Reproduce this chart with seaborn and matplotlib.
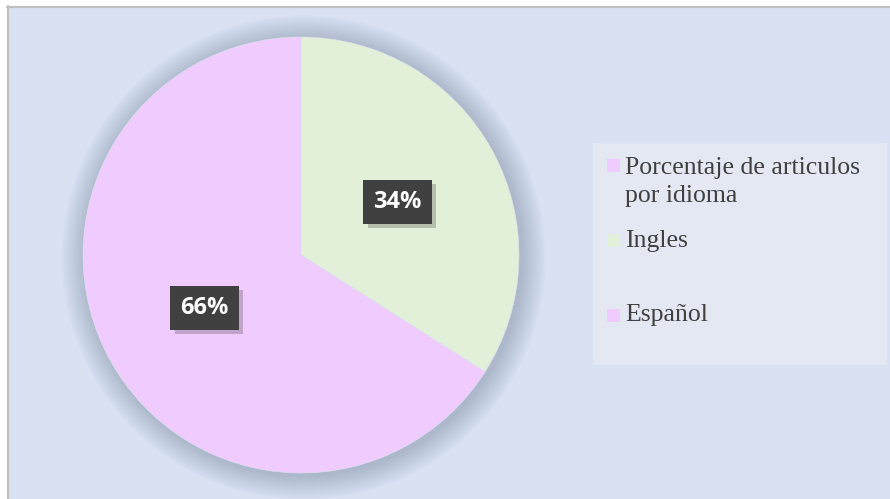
import numpy as np
import seaborn as sns
import matplotlib.pyplot as plt
import matplotlib.patheffects as pe
from matplotlib.patches import Rectangle, Circle
from matplotlib.lines import Line2D

# data
idiomas = ["Ingles", "Español"]
porcentajes = [34, 66]
serie = "Porcentaje de articulos\npor idioma"
colores = ["#E2EFD9", "#F0CCFE"]

sns.set_theme(style="white")
plt.rcParams["font.family"] = ["Liberation Serif", "DejaVu Serif"]

W, H = 890, 499
fig = plt.figure(figsize=(W / 100, H / 100), dpi=100)
fig.patch.set_facecolor("white")

# chart area background + grey frame (only left/top visible)
fig.patches.append(Rectangle((8 / W, 0), 1, (H - 7) / H, transform=fig.transFigure,
                             facecolor="#D9E2F3", edgecolor="none", zorder=-2))
fig.add_artist(Line2D([7.5 / W, 7.5 / W], [0, (H - 6) / H], color="#BFBFBF", lw=1.5, zorder=-1))
fig.add_artist(Line2D([7 / W, 1], [(H - 6.5) / H] * 2, color="#BFBFBF", lw=1.5, zorder=-1))

# pie axes: centre (301, 255), radius 218 px
cx, cy, r = 301, 255, 218
ax = fig.add_axes([(cx - r) / W, (H - cy - r) / H, 2 * r / W, 2 * r / H])
ax.set_facecolor("none")
ax.set_zorder(3)

# soft glow/shadow around the pie
n = 20
for k in range(n):
    rad = 1.0 + 0.0055 * (n - k)
    ax.add_patch(Circle((0.012, -0.012), rad, facecolor="#7A89A3", edgecolor="none",
                        alpha=0.022, clip_on=False, zorder=0))

wedges, texts, autotexts = ax.pie(
    porcentajes, colors=colores, startangle=90, counterclock=False,
    autopct="%d%%", pctdistance=0.505, radius=1,
    wedgeprops=dict(linewidth=0.4, edgecolor="#DDE3EE"),
    textprops=dict(color="white", fontsize=17, fontweight="bold", family="Open Sans"))
for w in wedges:
    w.set_zorder(2)
for t in autotexts:
    t.set_zorder(5)
    t.set_bbox(dict(boxstyle="square,pad=0.42", facecolor="#404040", edgecolor="none"))
    t.get_bbox_patch().set_path_effects([
        pe.SimplePatchShadow(offset=(3, -3), shadow_rgbFace="#000000", alpha=0.2),
        pe.Normal()])
ax.set_xlim(-1, 1)
ax.set_ylim(-1, 1)
ax.set_aspect("equal")
ax.axis("off")

# legend box, drawn by hand to keep Excel's uneven spacing
fig.patches.append(Rectangle((593 / W, 1 - 365 / H), (887 - 593) / W, (365 - 143) / H,
                             transform=fig.transFigure, facecolor="#E4E8F3",
                             edgecolor="none", zorder=1))
entradas = [(serie, colores[1], 165, 182), (idiomas[0], colores[0], 240, 241),
            (idiomas[1], colores[1], 315, 315)]
for texto, color, ym, yt in entradas:
    fig.patches.append(Rectangle((607 / W, 1 - (ym + 6.5) / H), 13 / W, 13 / H,
                                 transform=fig.transFigure, facecolor=color,
                                 edgecolor="none", zorder=2))
    fig.text(625 / W, 1 - yt / H, texto, fontsize=18.5, color="#404040",
             va="center", ha="left", zorder=3, linespacing=1.33)

fig.savefig("out.png", dpi=100)
